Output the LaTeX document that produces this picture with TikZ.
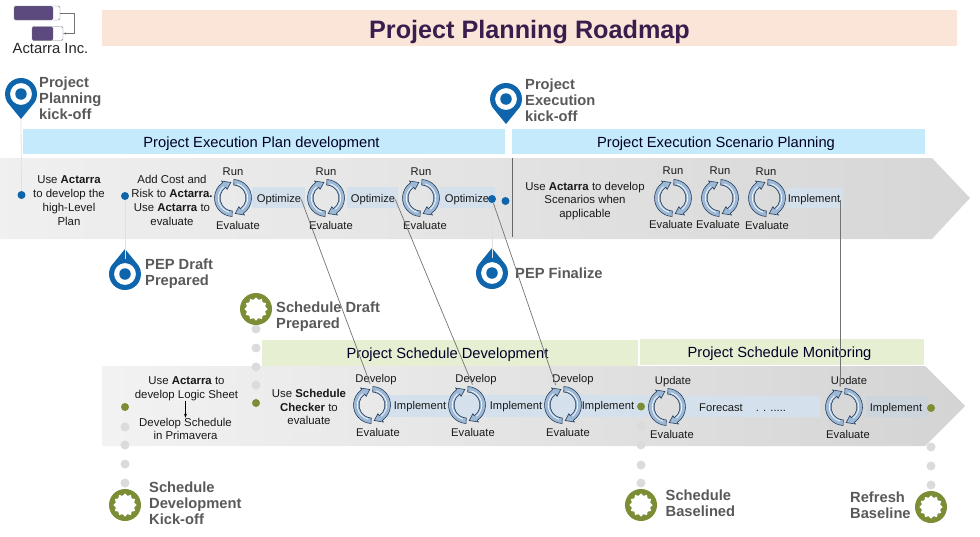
\documentclass[tikz,border=0pt]{standalone}
\usepackage{fontspec}
\setmainfont{Liberation Sans}
\usetikzlibrary{arrows.meta, shapes.geometric}
\definecolor{pinblue}{HTML}{0F65AC}
\definecolor{gearolive}{HTML}{7B8D35}
\definecolor{logopurple}{HTML}{5C4A7F}
\definecolor{barblue}{HTML}{C5EAFB}
\definecolor{bargreen}{HTML}{E6EFD2}
\definecolor{barpeach}{HTML}{FBE5D8}
\definecolor{titleink}{HTML}{3A1D4D}
\definecolor{stripblue}{HTML}{D4E1EC}
\definecolor{stripgrey}{HTML}{CDD5DC}
\definecolor{cycfill}{HTML}{9DB9D6}
\definecolor{cycedge}{HTML}{243F5E}
\definecolor{marktext}{HTML}{595959}
\begin{document}
\begin{tikzpicture}[x=1pt, y=-1pt, >=Stealth,
    titlebar/.style={fill=#1,minimum height=25pt,inner sep=0,text=black!85!blue,text height=13.5pt,text depth=2.5pt,execute at end node={\hspace*{5pt}},font=\fontsize{14.7}{16}\selectfont},
    steptext/.style={inner sep=0,yshift=-1.5pt,text height=8.2pt,text depth=2.4pt,text=black!90,font=\fontsize{11.2}{14}\selectfont},
    blocktext/.style={inner sep=0,align=center,text=black!90,font=\fontsize{11.4}{13.8}\selectfont},
    marktitle/.style={anchor=west,inner sep=0,align=left,text=marktext,font=\bfseries\fontsize{14.7}{16}\selectfont},
    bluedot/.style={circle,fill=pinblue,minimum size=8pt,inner sep=0},
    olivedot/.style={circle,fill=gearolive,minimum size=8pt,inner sep=0},
    greydot/.style={circle,fill=black!14,minimum size=9pt,inner sep=0},
    faint/.style={black!12,line width=0.8pt},
    linkline/.style={black!55,line width=0.7pt},
    pinhead/.style={circle,draw=pinblue,line width=4pt,fill=white,minimum size=26pt,inner sep=0},
    pineye/.style={circle,fill=pinblue,minimum size=11.5pt,inner sep=0},
    gearbody/.style={circle,fill=gearolive,minimum size=32pt,inner sep=0},
    gearhole/.style={star,star points=12,star point ratio=1.25,fill=white,minimum size=23.5pt,inner sep=0},
    logobar/.style={draw=black!50,line width=0.4pt,fill=white,rounded corners=1.5pt,inner sep=0,minimum height=14pt,
        path picture={\fill[logopurple] (path picture bounding box.south west) rectangle ([xshift=-#1pt]path picture bounding box.north east);}},
    cycband/.style={fill=cycfill,draw=cycedge,line width=0.6pt},
    cycle/.style={circle,minimum size=42pt,inner sep=0,path picture={
        \begin{scope}[shift={(path picture bounding box.center)}]
        \filldraw[cycband] (93:18.5) arc[start angle=93,end angle=236,radius=18.5] -- (236:20.5) -- (262:15.7) -- (236:10.5) -- (236:13) arc[start angle=236,end angle=93,radius=13] -- cycle;
        \filldraw[cycband] (273:18.5) arc[start angle=273,end angle=416,radius=18.5] -- (416:20.5) -- (442:15.7) -- (416:10.5) -- (416:13) arc[start angle=416,end angle=273,radius=13] -- cycle;
        \draw[white,line width=0.7pt] (105:14.7) arc[start angle=105,end angle=230,radius=14.7];
        \draw[white,line width=0.7pt] (285:14.7) arc[start angle=285,end angle=410,radius=14.7];
        \end{scope}}}]
    \useasboundingbox (0,0) rectangle (980,536);

    \node[fill=barpeach,minimum width=855pt,minimum height=36pt,inner sep=0] (roadmap) at (529.5,28) {};
    \node[text=titleink,font=\bfseries\fontsize{25.2}{28}\selectfont] (roadmaptitle) at (529.5,32) {Project Planning Roadmap};

    \node[logobar=7,minimum width=46pt] (logoa) at (37,13) {};
    \node[logobar=10,minimum width=31pt] (logob) at (47.5,33.5) {};
    \draw[->,black!55,line width=0.5pt,>={Stealth[length=3pt]}] (logoa.east) -- ++(14,0) |- (logob.east);
    \node[text=black!85,inner sep=0,font=\fontsize{14.8}{16}\selectfont] (logotext) at (50.5,48) {Actarra Inc.};

    \shade[left color=black!6,right color=black!16] (0,158) -- (932,158) -- (970,198) -- (932,239) -- (0,239) -- cycle;
    \shade[left color=black!5,right color=black!17] (102,366) -- (925,366) -- (965,406) -- (925,446) -- (102,446) -- cycle;

    \node[titlebar=barblue,minimum width=482pt] (pepbar) at (264,141.5) {Project Execution Plan development};
    \node[titlebar=barblue,minimum width=413pt] (scenbar) at (718.5,141.5) {Project Execution Scenario Planning};
    \node[titlebar=bargreen,minimum width=376pt,minimum height=26pt] (devbar) at (450,353) {Project Schedule Development};
    \node[titlebar=bargreen,minimum width=284pt,minimum height=26pt] (monbar) at (782,352) {Project Schedule Monitoring};

    \fill[stripblue] (252,187) rectangle (305,208) (347,187) rectangle (398,208) (440,187) rectangle (495,208) (787,188) rectangle (843,208);
    \fill[stripblue] (385,395) rectangle (650,417) (680,396) rectangle (820,417);
    \fill[stripgrey] (866,396) rectangle (928,417);

    \draw[black!60,line width=0.9pt] (512,158) -- (512,237);

    \foreach \n/\x/\y/\r in {pinkick/21/94/0,pinexec/506/99/0,pindraft/125/274/180,pinfinal/492/273/180}{
        \fill[pinblue,shift={(\x,\y)},rotate=\r] (0,25) -- (30:16) arc[start angle=30,end angle=-210,radius=16] -- cycle;
        \node[pinhead] (\n) at (\x,\y) {};
        \node[pineye] (\n eye) at (\n) {};
    }
    \node[bluedot] (dotkick) at (21.5,195) {};
    \node[bluedot] (dotdraft) at (125,196) {};
    \node[bluedot] (dotfinal) at (492,199) {};
    \node[bluedot] (dotexec) at (505.5,201) {};
    \draw[faint] (pinkick) ++(0,25) -- (dotkick);
    \draw[faint] (dotdraft) -- (pindraft);
    \draw[faint] (dotfinal) -- (pinfinal);

    \foreach \n/\x/\y in {ga/256/329,gb/256/348,gc/256/367,gd/256/385,ge/125/427,gf/125/445,gg/125/464,gh/125/483,gi/641/426,gj/641/445,gk/641/465,gl/641/483,gm/931/447,gn/931/466,go/931/485}{
        \node[greydot] (\n) at (\x,\y) {};
    }
    \node[olivedot] (dotsched) at (256,403) {};
    \node[olivedot] (dotdev) at (125,407) {};
    \node[olivedot] (dotbase) at (641,406.5) {};
    \node[olivedot] (dotrefresh) at (931,408) {};
    \foreach \n/\x/\y in {gearsched/256/309,geardev/125/505,gearbase/641/505,gearrefresh/931/507}{
        \node[gearbody] (\n) at (\x,\y) {};
        \node[gearhole] (\n hole) at (\n) {};
    }

    \foreach \n/\x/\y in {cyca/233/198,cycb/326/198,cycc/421/198,cycd/673/198,cyce/720/198,cycf/767/198,cycg/372/405,cych/467/405,cyci/563/405,cycj/667/407,cyck/844/407}{
        \node[cycle] (\n) at (\x,\y) {};
    }

    \foreach \n/\x/\y/\t in {runa/233/171/Run,runb/326/171/Run,runc/421/171/Run,rund/673/170/Run,rune/720/170/Run,runf/766/171/Run,
        eva/238/225/Evaluate,evb/331/225/Evaluate,evc/425/225/Evaluate,evd/671/224/Evaluate,eve/718/224/Evaluate,evf/767/225/Evaluate,
        opta/279/198/Optimize,optb/373/198/Optimize,optc/467/198/Optimize,impa/814/198/Implement,
        deva/376/378/Develop,devb/476/378/Develop,devc/573/378/Develop,upa/673/380/Update,upb/849/380/Update,
        evg/378/432/Evaluate,evh/473/432/Evaluate,evi/568/432/Evaluate,evj/672/434/Evaluate,evk/848/434/Evaluate,
        impb/420/405/Implement,impc/516/405/Implement,impd/608/405/Implement,impe/896/407/Implement,
        fore/721/407/Forecast,dots/771/407/{. . .....}}{
        \node[steptext] (\n) at (\x,\y) {\t};
    }

    \node[blocktext] (usea) at (69,200.5) {Use \textbf{Actarra}\\to develop the\\high-Level\\Plan};
    \node[blocktext] (useb) at (172,200.5) {Add Cost and\\Risk to \textbf{Actarra.}\\Use \textbf{Actarra} to\\evaluate};
    \node[blocktext] (usec) at (585,201) {Use \textbf{Actarra} to develop\\Scenarios when\\applicable};
    \node[blocktext] (logic) at (186.5,388.5) {Use \textbf{Actarra} to\\develop Logic Sheet};
    \node[blocktext] (prima) at (185.5,429) {Develop Schedule\\in Primavera};
    \node[blocktext] (check) at (309,407) {Use \textbf{Schedule}\\\textbf{Checker} to\\evaluate};
    \draw[->,black,line width=0.7pt,>={Stealth[length=4pt]}] (logic.south -| prima) -- (prima.north);

    \node[marktitle] (kicktext) at (39,98) {Project\\Planning\\kick-off};
    \node[marktitle] (exectext) at (525,100.5) {Project\\Execution\\kick-off};
    \node[marktitle] (drafttext) at (145,273.5) {PEP Draft\\Prepared};
    \node[marktitle] (finaltext) at (515,273) {PEP Finalize};
    \node[marktitle] (schedtext) at (276,317) {Schedule Draft\\Prepared};
    \node[marktitle] (devtext) at (149,503.5) {Schedule\\Development\\Kick-off};
    \node[marktitle] (basetext) at (665.5,503) {Schedule\\Baselined};
    \node[marktitle] (refreshtext) at (850,505) {Refresh\\Baseline};

    \draw[linkline] (opta.east) -- (cycg.95);
    \draw[linkline] (optb.east) -- (cych.75);
    \draw[linkline] (dotfinal) -- (cyci.110);
    \draw[linkline] (impa.east) -- (impa.east |- cyck.north);
\end{tikzpicture}
\end{document}
